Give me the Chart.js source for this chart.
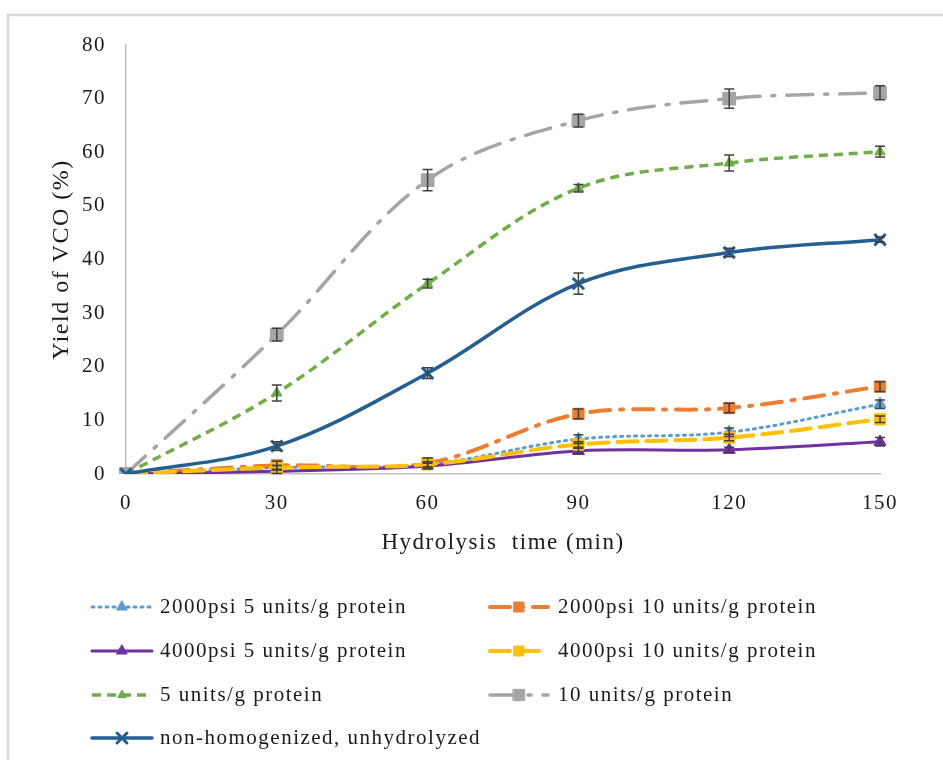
<!DOCTYPE html>
<html>
<head>
<meta charset="utf-8">
<script src="https://cdn.jsdelivr.net/npm/chart.js@4/dist/chart.umd.min.js"></script>
<style>
  html, body { margin: 0; padding: 0; background: #ffffff; }
  #wrap { width: 943px; height: 760px; position: relative; }
</style>
</head>
<body>
<div id="wrap"><canvas id="c" width="943" height="760"></canvas></div>
<script>
// Hydrolysis time points (min)
const times = [0, 30, 60, 90, 120, 150];
const yTicks = [0, 10, 20, 30, 40, 50, 60, 70, 80];

// Yield of VCO (%) per treatment
const psi2000_5 = [0, 1.2, 1.8, 6.5, 7.8, 13.0];
const psi2000_10 = [0, 1.6, 2.0, 11.2, 12.3, 16.3];
const psi4000_5 = [0, 0.5, 1.5, 4.3, 4.5, 6.0];
const psi4000_10 = [0, 1.2, 1.8, 5.5, 6.8, 10.2];
const units5 = [0, 15.1, 35.5, 53.3, 58.0, 60.1];
const units10 = [0, 26.0, 54.8, 65.9, 70.0, 71.1];
const nonHomog = [0, 5.2, 18.8, 35.5, 41.3, 43.7];

// Standard deviations (error bars)
const err2000_5 = [0, 0.4, 0.5, 0.8, 0.8, 0.8];
const err2000_10 = [0, 0.8, 1.0, 0.9, 0.9, 0.9];
const err4000_5 = [0, 0.4, 0.5, 0.5, 0.5, 0.8];
const err4000_10 = [0, 0.4, 0.5, 0.5, 0.6, 0.6];
const errUnits5 = [0, 1.5, 0.8, 0.7, 1.5, 1.0];
const errUnits10 = [0, 1.2, 2.0, 1.2, 1.8, 1.3];
const errNonHomog = [0, 0.8, 1.0, 2.0, 0.8, 0.5];

const series = [
  { label: '2000psi 5 units/g protein', data: psi2000_5, err: err2000_5, color: '#5B9BD5', dash: [2, 5], cap: 'round', width: 3, point: 'triangle', r: 7 },
  { label: '2000psi 10 units/g protein', data: psi2000_10, err: err2000_10, color: '#ED7D31', dash: [20, 10, 3, 10], cap: 'round', width: 4, point: 'rect', r: 8 },
  { label: '4000psi 5 units/g protein', data: psi4000_5, err: err4000_5, color: '#7030A0', dash: [], cap: 'round', width: 3, point: 'triangle', r: 7 },
  { label: '4000psi 10 units/g protein', data: psi4000_10, err: err4000_10, color: '#FFC000', dash: [20, 9], cap: 'round', width: 4, point: 'rect', r: 8 },
  { label: '5 units/g protein', data: units5, err: errUnits5, color: '#70AD47', dash: [9, 6], cap: 'butt', width: 3.5, point: 'triangle', r: 6 },
  { label: '10 units/g protein', data: units10, err: errUnits10, color: '#A5A5A5', dash: [26, 12, 3, 12], cap: 'round', width: 3.5, point: 'rect', r: 9 },
  { label: 'non-homogenized, unhydrolyzed', data: nonHomog, err: errNonHomog, color: '#255E91', dash: [], cap: 'round', width: 3.5, point: 'crossRot', r: 8 }
];

const FONT = "'Liberation Serif', 'Times New Roman', serif";
const TEXT = '#1a1a1a';

const datasets = series.map((s, i) => ({
  label: s.label,
  data: s.data,
  errors: s.err,
  borderColor: s.color,
  backgroundColor: s.color,
  borderWidth: s.width,
  borderDash: s.dash,
  borderCapStyle: s.cap,
  tension: 0.35,
  pointStyle: s.point,
  pointRadius: s.r,
  pointBorderWidth: s.point === 'crossRot' ? 3 : 1,
  pointBorderColor: s.color,
  pointBackgroundColor: s.color,
  fill: false,
  order: series.length - i
}));

// Slightly wider text tracking for all labels
const trackingPlugin = {
  id: 'tracking',
  beforeUpdate(chart) { chart.ctx.letterSpacing = '1.5px'; },
  beforeDraw(chart) { chart.ctx.letterSpacing = '1.5px'; }
};

// Frame around the figure
const framePlugin = {
  id: 'frame',
  beforeDraw(chart) {
    const ctx = chart.ctx;
    ctx.save();
    ctx.strokeStyle = '#D9D9D9';
    ctx.lineWidth = 2.5;
    ctx.beginPath();
    ctx.moveTo(8, 770);
    ctx.lineTo(8, 15);
    ctx.lineTo(950, 15);
    ctx.stroke();
    ctx.restore();
  }
};

// Vertical error bars with caps
const errorBarPlugin = {
  id: 'errorBars',
  afterDatasetsDraw(chart) {
    const ctx = chart.ctx;
    const xs = chart.scales.x, ys = chart.scales.y;
    ctx.save();
    ctx.strokeStyle = '#404040';
    ctx.lineWidth = 1.5;
    chart.data.datasets.forEach(ds => {
      ds.data.forEach((v, j) => {
        const e = ds.errors[j];
        if (!e) return;
        const px = xs.getPixelForValue(j);
        const top = ys.getPixelForValue(v + e);
        const bot = ys.getPixelForValue(v - e);
        ctx.beginPath();
        ctx.moveTo(px, top); ctx.lineTo(px, bot);
        ctx.moveTo(px - 5, top); ctx.lineTo(px + 5, top);
        ctx.moveTo(px - 5, bot); ctx.lineTo(px + 5, bot);
        ctx.stroke();
      });
    });
    ctx.restore();
  }
};

// Two-column legend below the plot
const legendPlugin = {
  id: 'twoColLegend',
  afterDraw(chart) {
    const ctx = chart.ctx;
    const rows = [607, 651, 695, 738];
    const cols = [{ x0: 92, x1: 152, tx: 160 }, { x0: 490, x1: 548, tx: 558 }];
    ctx.save();
    chart.data.datasets.forEach((ds, i) => {
      const col = cols[i % 2];
      const y = rows[Math.floor(i / 2)];
      ctx.strokeStyle = ds.borderColor;
      ctx.lineWidth = ds.borderWidth;
      ctx.lineCap = ds.borderCapStyle;
      ctx.setLineDash(ds.borderDash);
      ctx.beginPath();
      ctx.moveTo(col.x0, y);
      ctx.lineTo(col.x1, y);
      ctx.stroke();
      ctx.setLineDash([]);
      ctx.fillStyle = ds.pointBackgroundColor;
      ctx.strokeStyle = ds.pointBorderColor;
      ctx.lineWidth = ds.pointBorderWidth;
      Chart.helpers.drawPoint(ctx, {
        pointStyle: ds.pointStyle,
        radius: ds.pointRadius - 1,
        borderWidth: ds.pointBorderWidth,
        rotation: 0
      }, (col.x0 + col.x1) / 2, y);
      ctx.fillStyle = TEXT;
      ctx.font = '21px ' + FONT;
      ctx.textBaseline = 'middle';
      ctx.textAlign = 'left';
      ctx.fillText(ds.label, col.tx, y);
    });
    ctx.restore();
  }
};

new Chart(document.getElementById('c'), {
  type: 'line',
  data: { labels: times.map(String), datasets },
  options: {
    responsive: false,
    animation: false,
    events: [],
    layout: { padding: { left: 43, top: 45, right: 63, bottom: 199 } },
    plugins: { legend: { display: false }, tooltip: { enabled: false } },
    scales: {
      x: {
        type: 'category',
        offset: false,
        grid: { display: false, drawTicks: false },
        border: { display: true, color: '#BFBFBF', width: 1.5 },
        ticks: { color: TEXT, font: { family: FONT, size: 21 }, padding: 17, maxRotation: 0 },
        title: { display: true, text: 'Hydrolysis  time (min)', color: TEXT, font: { family: FONT, size: 23 } },
        afterFit(scale) { scale.height = 87; }
      },
      y: {
        min: 0, max: 80,
        grid: { display: false, drawTicks: false },
        border: { display: true, color: '#BFBFBF', width: 1.5 },
        afterBuildTicks(scale) { scale.ticks = yTicks.map(v => ({ value: v })); },
        ticks: { color: TEXT, font: { family: FONT, size: 21 }, padding: 20 },
        title: { display: true, text: 'Yield of VCO (%)', color: TEXT, font: { family: FONT, size: 24 } },
        afterFit(scale) { scale.width = 83; }
      }
    }
  },
  plugins: [trackingPlugin, framePlugin, errorBarPlugin, legendPlugin]
});
</script>
</body>
</html>
